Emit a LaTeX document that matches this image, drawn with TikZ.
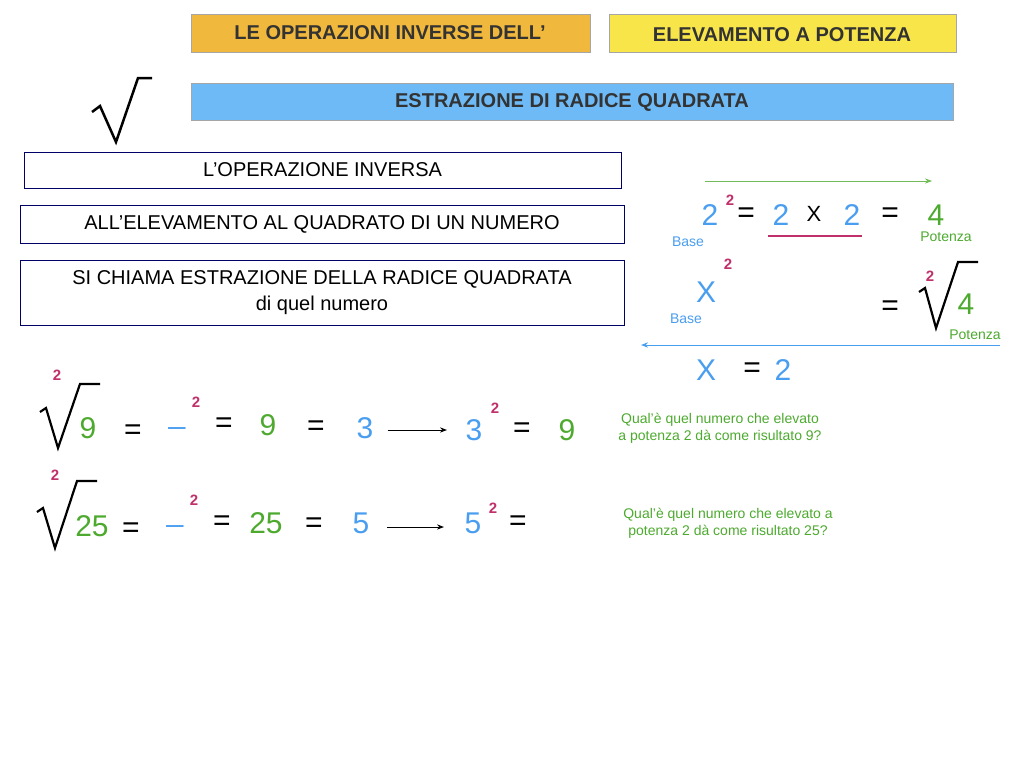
\documentclass[tikz,border=0pt]{standalone}
\usepackage{fontspec}
\setmainfont{Liberation Sans}
\usetikzlibrary{arrows.meta}
\definecolor{bl}{HTML}{4A9EF0}
\definecolor{gr}{HTML}{4DAA2F}
\definecolor{mg}{HTML}{C0306A}
\definecolor{org}{HTML}{F0B83C}
\definecolor{yel}{HTML}{F7E54A}
\definecolor{sky}{HTML}{6DBAF6}
\tikzset{x=1pt,y=-1pt,
 hbox/.style={draw=gray!70,line width=0.8pt,text=black!80,font=\fontsize{20}{22}\selectfont\bfseries},
 wbox/.style={draw=black!60!blue,line width=0.6pt,fill=white,font=\fontsize{20}{22}\selectfont,align=center},
 big/.style={font=\fontsize{30}{32}\selectfont,inner sep=0pt},
 sup/.style={font=\fontsize{15}{16}\selectfont\bfseries,text=mg,inner sep=0pt},
 sm/.style={font=\fontsize{14}{16}\selectfont,inner sep=0pt},
 note/.style={font=\fontsize{14}{17}\selectfont,text=gr,align=center,inner sep=0pt},
 rad/.style={line width=2.2pt,line join=miter},
 arr/.style={-{Stealth[length=7pt]},line width=1pt}}
\begin{document}
\begin{tikzpicture}
\useasboundingbox (0,0) rectangle (1024,768);
\fill[white] (0,0) rectangle (1024,768);
% headers
\draw[hbox,fill=org] (191,14) rectangle (590,52);
\node[hbox,draw=none] (h1) at (390,33) {LE OPERAZIONI INVERSE DELL’};
\draw[hbox,fill=yel] (609,14) rectangle (956,52);
\node[hbox,draw=none] (h2) at (782,35) {ELEVAMENTO A POTENZA};
\draw[hbox,fill=sky] (191,83) rectangle (953,120);
\node[hbox,draw=none] (h3) at (572,102) {ESTRAZIONE DI RADICE QUADRATA};
\draw[line width=2.5pt,line join=miter] (92,112) -- (100,106) -- (116,142) -- (138,78) -- (152,78);
% text boxes
\node[wbox,minimum width=597pt,minimum height=36pt] (b1) at (322.5,170) {L’OPERAZIONE INVERSA};
\node[wbox,minimum width=604pt,minimum height=38pt] (b2) at (322,224) {ALL’ELEVAMENTO AL QUADRATO DI UN NUMERO};
\node[wbox,minimum width=604pt,minimum height=65pt,font=\fontsize{20}{26}\selectfont] (b3) at (322,292.5) {SI CHIAMA ESTRAZIONE DELLA RADICE QUADRATA\\di quel numero};
% right math
\coordinate (ga) at (705,181); \coordinate (gb) at (932,181);
\draw[arr,gr!80!white] (ga) -- (gb);
\node[big,text=bl] (a1) at (710,215) {2};
\node[sup] (a2) at (730,200) {2};
\node[big] (a3) at (746,215) {=};
\node[big,text=bl] (a4) at (781,215) {2};
\node[font=\fontsize{22}{24}\selectfont] (a5) at (814,214) {X};
\node[big,text=bl] (a6) at (852,215) {2};
\draw[mg,line width=1.5pt] (768,236) -- (862,236);
\node[big] (a7) at (890,215) {=};
\node[big,text=gr] (a8) at (936,215) {4};
\node[sm,text=bl] (a9) at (688,242) {Base};
\node[sm,text=gr] (a10) at (946,237) {Potenza};
\node[big,text=bl] (c1) at (706,292) {X};
\node[sup] (c2) at (728,264) {2};
\node[sm,text=bl] (c3) at (686,319) {Base};
\node[big] (c4) at (890,308) {=};
\draw[rad] (919,292) -- (925,288) -- (936,328) -- (958,262) -- (978,262);
\node[sup] (c5) at (930,276) {2};
\node[big,text=gr] (c6) at (966,304) {4};
\node[sm,text=gr] (c7) at (975,335) {Potenza};
\coordinate (ba) at (1000,345); \coordinate (bb) at (641,345);
\draw[arr,bl] (ba) -- (bb);
\node[big,text=bl] (d1) at (706,370) {X};
\node[big] (d2) at (752,370) {=};
\node[big,text=bl] (d3) at (783,370) {2};
% row 1
\draw[rad] (40,412) -- (46,408) -- (58,448) -- (80,384) -- (100,384);
\node[sup] (r1) at (57,375) {2};
\node[big,text=gr] (r2) at (88,428) {9};
\node[big] (r3) at (133,432) {=};
\node[big,text=bl] (r4) at (177,426) {\_};
\node[sup] (r5) at (196,402) {2};
\node[big] (r6) at (224,425) {=};
\node[big,text=gr] (r7) at (268,425) {9};
\node[big] (r8) at (316,428) {=};
\node[big,text=bl] (r9) at (365,428) {3};
\node[big,text=bl] (r10) at (474,430) {3};
\draw[arr] (r9.east) ++(14,2) coordinate (p1) -- (447,430);
\node[sup] (r11) at (495,408) {2};
\node[big] (r12) at (522,430) {=};
\node[big,text=gr] (r13) at (567,430) {9};
\node[note] (n1) at (720,428) {Qual’è quel numero che elevato\\a potenza 2 dà come risultato 9?};
% row 2
\draw[rad] (37,512) -- (43,508) -- (55,548) -- (77,481) -- (97,481);
\node[sup] (s1) at (55,475) {2};
\node[big,text=gr] (s2) at (92,526) {25};
\node[big] (s3) at (131,530) {=};
\node[big,text=bl] (s4) at (175,524) {\_};
\node[sup] (s5) at (194,500) {2};
\node[big] (s6) at (222,523) {=};
\node[big,text=gr] (s7) at (266,523) {25};
\node[big] (s8) at (314,525) {=};
\node[big,text=bl] (s9) at (361,523) {5};
\node[big,text=bl] (s10) at (473,523) {5};
\draw[arr] (387,527) -- (444,527);
\node[sup] (s11) at (493,508) {2};
\node[big] (s12) at (518,523) {=};
\node[note] (n2) at (728,523) {Qual’è quel numero che elevato a\\potenza 2 dà come risultato 25?};
\end{tikzpicture}
\end{document}
